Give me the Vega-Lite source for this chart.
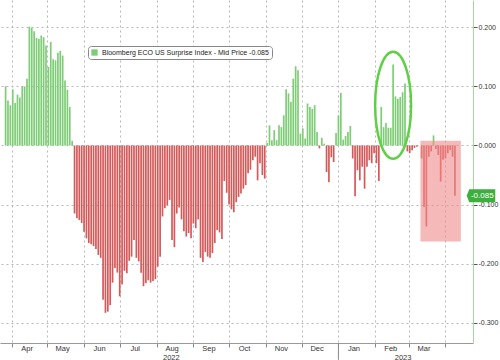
{
  "$schema": "https://vega.github.io/schema/vega-lite/v6.json",
  "width": 473,
  "height": 343,
  "autosize": {"type": "none"},
  "padding": {"left": 0, "top": 0, "right": 27, "bottom": 17},
  "background": "white",
  "config": {"view": {"stroke": null}, "font": "Liberation Sans"},
  "datasets": {
    "bars": [
      {"d":"2022-03-27","v":0.100},{"d":"2022-03-29","v":0.076},{"d":"2022-03-31","v":0.068},
      {"d":"2022-04-02","v":0.095},{"d":"2022-04-04","v":0.072},{"d":"2022-04-06","v":0.086},{"d":"2022-04-08","v":0.081},{"d":"2022-04-10","v":0.100},{"d":"2022-04-12","v":0.100},{"d":"2022-04-14","v":0.113},{"d":"2022-04-16","v":0.201},{"d":"2022-04-18","v":0.199},{"d":"2022-04-20","v":0.193},{"d":"2022-04-22","v":0.182},{"d":"2022-04-24","v":0.180},{"d":"2022-04-26","v":0.186},{"d":"2022-04-28","v":0.183},{"d":"2022-04-30","v":0.169},
      {"d":"2022-05-02","v":0.133},{"d":"2022-05-04","v":0.175},{"d":"2022-05-06","v":0.146},{"d":"2022-05-08","v":0.144},{"d":"2022-05-10","v":0.157},{"d":"2022-05-12","v":0.160},{"d":"2022-05-14","v":0.152},{"d":"2022-05-16","v":0.110},{"d":"2022-05-18","v":0.094},{"d":"2022-05-20","v":0.065},{"d":"2022-05-22","v":0.008},{"d":"2022-05-24","v":-0.115},{"d":"2022-05-26","v":-0.123},{"d":"2022-05-28","v":-0.126},{"d":"2022-05-30","v":-0.131},
      {"d":"2022-06-01","v":-0.146},{"d":"2022-06-03","v":-0.157},{"d":"2022-06-05","v":-0.165},{"d":"2022-06-07","v":-0.167},{"d":"2022-06-09","v":-0.170},{"d":"2022-06-11","v":-0.175},{"d":"2022-06-13","v":-0.185},{"d":"2022-06-15","v":-0.190},{"d":"2022-06-17","v":-0.261},{"d":"2022-06-19","v":-0.283},{"d":"2022-06-21","v":-0.281},{"d":"2022-06-23","v":-0.270},{"d":"2022-06-25","v":-0.232},{"d":"2022-06-27","v":-0.207},{"d":"2022-06-29","v":-0.215},
      {"d":"2022-07-01","v":-0.255},{"d":"2022-07-03","v":-0.235},{"d":"2022-07-05","v":-0.212},{"d":"2022-07-07","v":-0.216},{"d":"2022-07-09","v":-0.195},{"d":"2022-07-11","v":-0.188},{"d":"2022-07-13","v":-0.160},{"d":"2022-07-15","v":-0.190},{"d":"2022-07-17","v":-0.196},{"d":"2022-07-19","v":-0.215},{"d":"2022-07-21","v":-0.238},{"d":"2022-07-23","v":-0.233},{"d":"2022-07-25","v":-0.228},{"d":"2022-07-27","v":-0.232},{"d":"2022-07-29","v":-0.229},{"d":"2022-07-31","v":-0.226},
      {"d":"2022-08-02","v":-0.205},{"d":"2022-08-04","v":-0.188},{"d":"2022-08-06","v":-0.120},{"d":"2022-08-08","v":-0.106},{"d":"2022-08-10","v":-0.101},{"d":"2022-08-12","v":-0.092},{"d":"2022-08-14","v":-0.160},{"d":"2022-08-16","v":-0.172},{"d":"2022-08-18","v":-0.115},{"d":"2022-08-20","v":-0.105},{"d":"2022-08-22","v":-0.125},{"d":"2022-08-24","v":-0.145},{"d":"2022-08-26","v":-0.154},{"d":"2022-08-28","v":-0.148},{"d":"2022-08-30","v":-0.157},
      {"d":"2022-09-01","v":-0.132},{"d":"2022-09-03","v":-0.140},{"d":"2022-09-05","v":-0.125},{"d":"2022-09-07","v":-0.190},{"d":"2022-09-09","v":-0.197},{"d":"2022-09-11","v":-0.180},{"d":"2022-09-13","v":-0.188},{"d":"2022-09-15","v":-0.190},{"d":"2022-09-17","v":-0.182},{"d":"2022-09-19","v":-0.165},{"d":"2022-09-21","v":-0.143},{"d":"2022-09-23","v":-0.147},{"d":"2022-09-25","v":-0.158},{"d":"2022-09-27","v":-0.060},{"d":"2022-09-29","v":-0.080},
      {"d":"2022-10-01","v":-0.100},{"d":"2022-10-03","v":-0.108},{"d":"2022-10-05","v":-0.113},{"d":"2022-10-07","v":-0.096},{"d":"2022-10-09","v":-0.087},{"d":"2022-10-11","v":-0.081},{"d":"2022-10-13","v":-0.073},{"d":"2022-10-15","v":-0.067},{"d":"2022-10-17","v":-0.047},{"d":"2022-10-19","v":-0.041},{"d":"2022-10-21","v":-0.025},{"d":"2022-10-23","v":-0.019},{"d":"2022-10-25","v":-0.059},{"d":"2022-10-27","v":-0.030},{"d":"2022-10-29","v":-0.050},{"d":"2022-10-31","v":-0.056},
      {"d":"2022-11-02","v":0.004},{"d":"2022-11-04","v":0.034},{"d":"2022-11-06","v":0.009},{"d":"2022-11-08","v":0.026},{"d":"2022-11-10","v":0.009},{"d":"2022-11-12","v":0.034},{"d":"2022-11-14","v":0.031},{"d":"2022-11-16","v":0.051},{"d":"2022-11-18","v":0.095},{"d":"2022-11-20","v":0.088},{"d":"2022-11-22","v":0.074},{"d":"2022-11-24","v":0.113},{"d":"2022-11-26","v":0.134},{"d":"2022-11-28","v":0.127},{"d":"2022-11-30","v":0.020},
      {"d":"2022-12-02","v":0.029},{"d":"2022-12-04","v":0.012},{"d":"2022-12-06","v":0.071},{"d":"2022-12-08","v":0.065},{"d":"2022-12-10","v":0.062},{"d":"2022-12-12","v":0.068},{"d":"2022-12-14","v":0.023},{"d":"2022-12-16","v":-0.005},{"d":"2022-12-18","v":0.013},{"d":"2022-12-20","v":0.003},{"d":"2022-12-22","v":-0.045},{"d":"2022-12-24","v":-0.062},{"d":"2022-12-26","v":-0.020},{"d":"2022-12-28","v":-0.028},{"d":"2022-12-30","v":0.021},
      {"d":"2023-01-01","v":0.051},{"d":"2023-01-03","v":0.089},{"d":"2023-01-05","v":0.010},{"d":"2023-01-07","v":0.016},{"d":"2023-01-09","v":0.023},{"d":"2023-01-11","v":0.033},{"d":"2023-01-13","v":-0.022},{"d":"2023-01-15","v":-0.086},{"d":"2023-01-17","v":-0.042},{"d":"2023-01-19","v":-0.059},{"d":"2023-01-21","v":-0.036},{"d":"2023-01-23","v":-0.073},{"d":"2023-01-25","v":-0.036},{"d":"2023-01-27","v":-0.025},{"d":"2023-01-29","v":-0.030},{"d":"2023-01-31","v":-0.013},
      {"d":"2023-02-02","v":-0.030},{"d":"2023-02-04","v":-0.060},{"d":"2023-02-06","v":0.065},{"d":"2023-02-08","v":0.031},{"d":"2023-02-10","v":0.038},{"d":"2023-02-12","v":0.030},{"d":"2023-02-14","v":0.030},{"d":"2023-02-16","v":0.137},{"d":"2023-02-18","v":0.083},{"d":"2023-02-20","v":0.079},{"d":"2023-02-22","v":0.082},{"d":"2023-02-24","v":0.090},{"d":"2023-02-26","v":0.105},{"d":"2023-02-28","v":-0.010},
      {"d":"2023-03-02","v":-0.013},{"d":"2023-03-04","v":-0.008},{"d":"2023-03-06","v":-0.004},{"d":"2023-03-08","v":-0.002},{"d":"2023-03-12","v":-0.022},{"d":"2023-03-14","v":-0.104},{"d":"2023-03-16","v":-0.137},{"d":"2023-03-18","v":-0.019},{"d":"2023-03-20","v":-0.010},{"d":"2023-03-22","v":0.017},{"d":"2023-03-24","v":-0.006},{"d":"2023-03-26","v":-0.016},{"d":"2023-03-28","v":-0.061},{"d":"2023-03-30","v":-0.024},
      {"d":"2023-04-01","v":-0.022},{"d":"2023-04-03","v":-0.013},{"d":"2023-04-05","v":-0.008},{"d":"2023-04-07","v":-0.019},{"d":"2023-04-09","v":-0.085}
    ],
    "box": [{"d1":"2023-03-11","d2":"2023-04-14","v1":0.0078,"v2":-0.1625}],
    "ring": [{"d":"2023-02-16","v":0.068}],
    "last": [{"d":"2023-05-02","v":-0.085,"t":"-0.085"}],
    "yearsep": [{"d":"2023-01-01","v1":-0.334,"v2":-0.3625}]
  },
  "resolve": {"axis": {"x": "independent"}},
  "layer": [
    {
      "data": {"name": "bars"},
      "transform": [{"calculate": "datum.v >= 0 ? 'pos' : 'neg'", "as": "sign"}],
      "mark": {"type": "bar", "size": 1.7},
      "encoding": {
        "x": {
          "field": "d", "type": "temporal",
          "scale": {"domain": ["2022-03-26T12:00:00", "2023-04-20T00:00:00"], "nice": false},
          "axis": {
            "orient": "bottom", "title": null,
            "tickCount": {"interval": "month", "step": 1},
            "labelExpr": "(year(datum.value)==2023 && month(datum.value)==3) ? '' : timeFormat(datum.value, '%b')",
            "labelOffset": 15, "labelFontSize": 7.5, "labelColor": "#333", "labelPadding": -3,
            "labelFlush": false, "labelOverlap": false,
            "grid": true, "gridDash": [2, 3], "gridColor": "#b8b8b8",
            "tickColor": "#888", "tickSize": 4,
            "domainColor": "#999"
          }
        },
        "y": {
          "field": "v", "type": "quantitative",
          "scale": {"domain": [-0.334, 0.246], "nice": false, "zero": false},
          "axis": {
            "orient": "right", "title": null,
            "values": [-0.3, -0.25, -0.2, -0.15, -0.1, -0.05, 0, 0.05, 0.1, 0.15, 0.2],
            "labelExpr": "abs(datum.value*10 - round(datum.value*10)) < 0.001 ? replace(format(datum.value, '.3f'), '\u2212', '-') : ''",
            "labelFontSize": 7, "labelColor": "#333", "labelPadding": 1,
            "grid": true, "gridDash": [2, 3], "gridColor": "#b8b8b8",
            "gridOpacity": {"condition": {"test": "abs(datum.value*10 - round(datum.value*10)) < 0.001", "value": 1}, "value": 0},
            "tickColor": "#555",
            "tickSize": {"condition": {"test": "abs(datum.value*10 - round(datum.value*10)) < 0.001", "value": 4}, "value": 3},
            "domainColor": "#a8d8a0"
          }
        },
        "y2": {"datum": 0},
        "color": {
          "field": "sign", "type": "nominal",
          "scale": {"domain": ["pos", "neg"], "range": ["#7fcc77", "#d45a5a"]},
          "legend": {
            "orient": "none", "legendX": 88, "legendY": 46, "direction": "horizontal",
            "title": null, "values": ["pos"],
            "labelExpr": "'Bloomberg ECO US Surprise Index - Mid Price -0.085'",
            "labelLimit": 400,
            "symbolType": "square", "symbolSize": 40, "symbolOpacity": 1, "symbolStrokeWidth": 0,
            "labelFontSize": 7, "labelColor": "#222",
            "fillColor": "#ffffff", "strokeColor": "#888888", "cornerRadius": 3, "padding": 3
          }
        }
      }
    },
    {
      "data": {"name": "box"},
      "mark": {"type": "rect", "color": "#f08a8a", "opacity": 0.6},
      "encoding": {
        "x": {
          "field": "d1", "type": "temporal",
          "axis": {
            "orient": "bottom", "title": null,
            "values": [{"year": 2022, "month": 8, "date": 13}, {"year": 2023, "month": 2, "date": 24}],
            "labelExpr": "timeFormat(datum.value, '%Y')",
            "ticks": false, "domain": false, "grid": false,
            "labelPadding": 10, "labelFontSize": 7.5, "labelColor": "#333", "labelFlush": false
          }
        },
        "x2": {"field": "d2"},
        "y": {"field": "v1", "type": "quantitative"},
        "y2": {"field": "v2"}
      }
    },
    {
      "data": {"name": "yearsep"},
      "mark": {"type": "rule", "color": "#888", "strokeWidth": 1, "clip": false},
      "encoding": {
        "x": {"field": "d", "type": "temporal", "axis": null},
        "y": {"field": "v1", "type": "quantitative"},
        "y2": {"field": "v2"}
      }
    },
    {
      "data": {"name": "ring"},
      "mark": {
        "type": "point", "filled": false, "stroke": "#5fcf45", "strokeWidth": 2.5, "opacity": 1,
        "shape": "M -0.336 0 A 0.336 1 0 1 0 0.336 0 A 0.336 1 0 1 0 -0.336 0 Z",
        "size": 11449
      },
      "encoding": {
        "x": {"field": "d", "type": "temporal", "axis": null},
        "y": {"field": "v", "type": "quantitative"}
      }
    },
    {
      "data": {"name": "last"},
      "layer": [
        {
          "mark": {
            "type": "point", "filled": true, "color": "#3daf3d", "opacity": 1,
            "shape": "M -1.2 0 L -1 -0.5 L 1 -0.5 L 1 0.5 L -1 0.5 Z",
            "size": 676
          },
          "encoding": {
            "x": {"field": "d", "type": "temporal", "axis": null},
            "y": {"field": "v", "type": "quantitative"}
          }
        },
        {
          "mark": {"type": "text", "color": "#ffffff", "fontSize": 8, "align": "center", "baseline": "middle"},
          "encoding": {
            "x": {"field": "d", "type": "temporal", "axis": null},
            "y": {"field": "v", "type": "quantitative"},
            "text": {"field": "t"}
          }
        }
      ]
    }
  ]
}
